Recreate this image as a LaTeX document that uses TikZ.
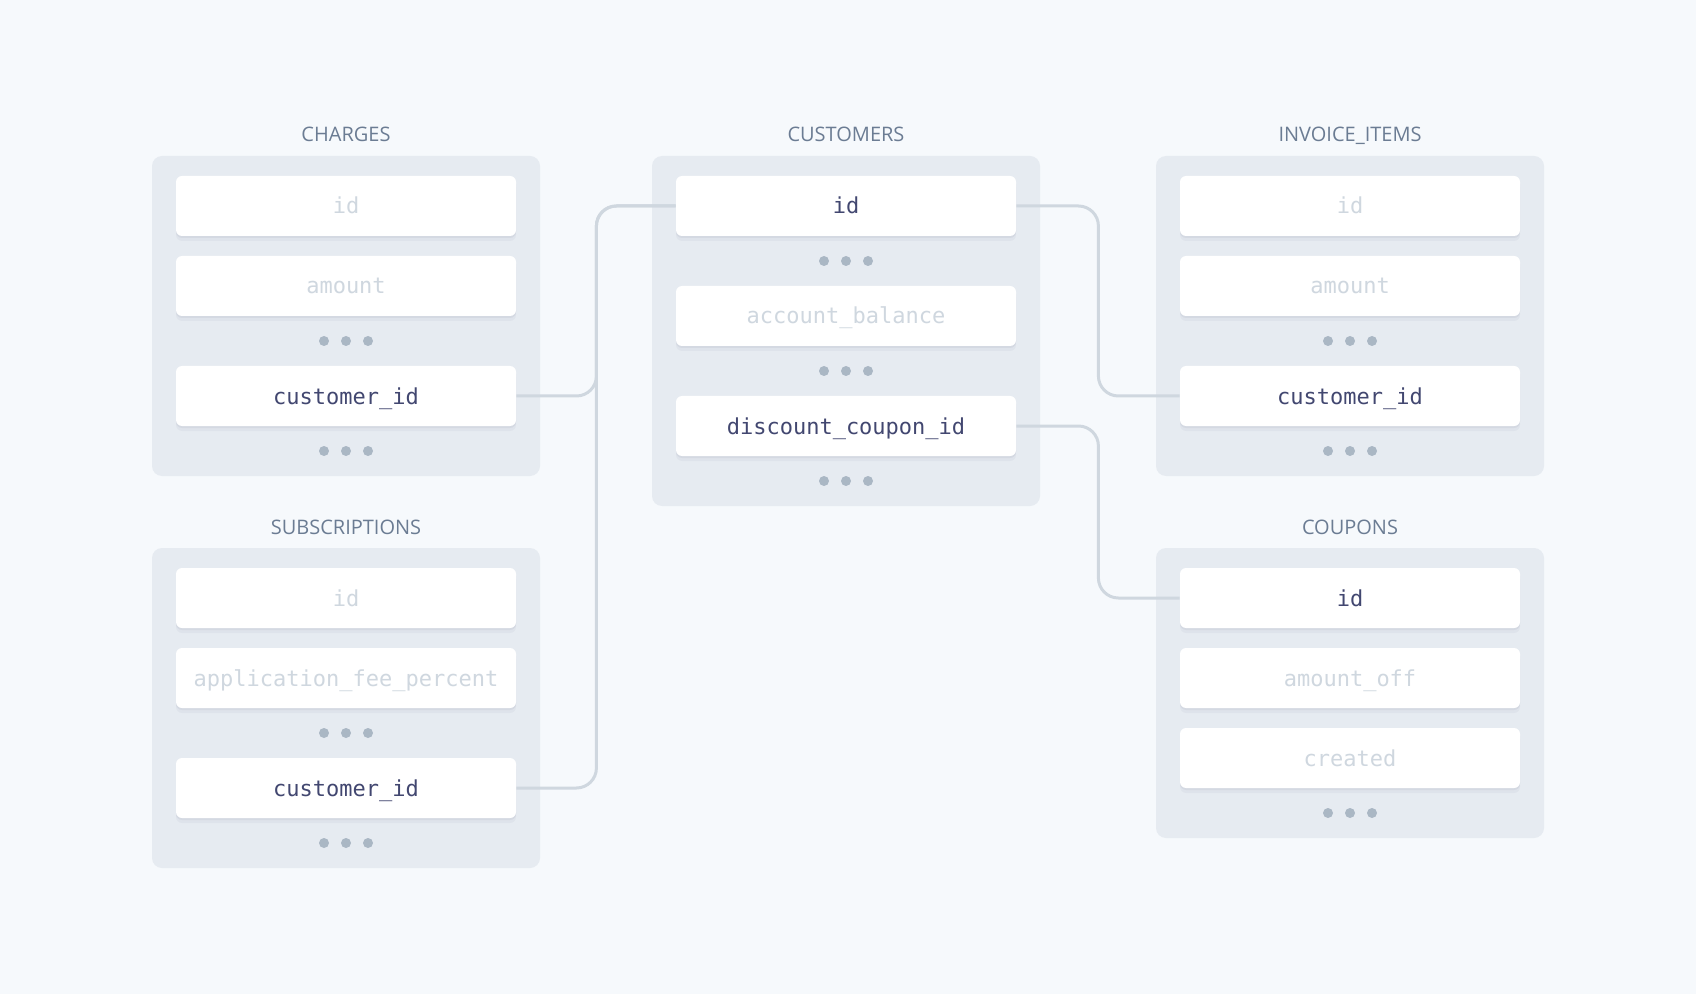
\documentclass[tikz,border=0pt]{standalone}
\usepackage{fontspec}
\usepackage{tikz}
\usetikzlibrary{shadows}
\setmainfont{Open Sans}
\newfontfamily\codefont{DejaVu Sans Mono}

\definecolor{pagebg}{HTML}{F6F9FC}
\definecolor{panelbg}{HTML}{E6EBF1}
\definecolor{titlegray}{HTML}{6B7C93}
\definecolor{keyblue}{HTML}{424770}
\definecolor{fadegray}{HTML}{CFD7DF}
\definecolor{dotgray}{HTML}{AAB7C4}
\definecolor{linkgray}{HTML}{CFD7DF}
\definecolor{shadowblue}{HTML}{32325D}

\tikzset{
  table/.style={fill=panelbg, rounded corners=5pt, minimum width=194pt, inner sep=0pt},
  tabletitle/.style={text=titlegray, font=\fontsize{10}{12}\selectfont,
    text height=7pt, text depth=0pt},
  field/.style={fill=white, rounded corners=3pt, minimum width=170pt, minimum height=30pt,
    inner sep=0pt, font=\codefont\fontsize{11}{13}\selectfont, text=fadegray,
    text height=8pt, text depth=0pt,
    drop shadow={shadow xshift=0pt, shadow yshift=-1pt, fill=shadowblue, opacity=0.06},
    drop shadow={shadow xshift=0pt, shadow yshift=-2.5pt, fill=shadowblue, opacity=0.04}},
  keyfield/.style={field, text=keyblue},
  link/.style={draw=linkgray, line width=1.5pt, rounded corners=10pt},
}
\newcommand{\moredots}[2]{%
  \foreach \dx in {-11,0,11} \fill[dotgray] (#1,#2) ++(\dx pt,0) circle (2.5pt);}

\begin{document}
\begin{tikzpicture}[x=0.5pt, y=-0.5pt]
  \fill[pagebg] (0,0) rectangle (1696,994);
  \useasboundingbox (0,0) rectangle (1696,994);

  % tables
  \node[tabletitle] (charges-title) at (346,135) {CHARGES};
  \node[table, minimum height=160pt] (charges) at (346,316) {};
  \node[tabletitle] (customers-title) at (846,135) {CUSTOMERS};
  \node[table, minimum height=175pt] (customers) at (846,331) {};
  \node[tabletitle] (invoice-title) at (1350,135) {INVOICE\_ITEMS};
  \node[table, minimum height=160pt] (invoice) at (1350,316) {};
  \node[tabletitle] (subs-title) at (346,527) {SUBSCRIPTIONS};
  \node[table, minimum height=160pt] (subs) at (346,708) {};
  \node[tabletitle] (coupons-title) at (1350,527) {COUPONS};
  \node[table, minimum height=145pt] (coupons) at (1350,693) {};

  % charges
  \node[field] (charges-id) at (346,206) {id};
  \node[field] (charges-amount) at (346,286) {amount};
  \moredots{346}{341}
  \node[keyfield] (charges-cust) at (346,396) {customer\_id};
  \moredots{346}{451}

  % customers
  \node[keyfield] (customers-id) at (846,206) {id};
  \moredots{846}{261}
  \node[field] (customers-bal) at (846,316) {account\_balance};
  \moredots{846}{371}
  \node[keyfield] (customers-coupon) at (846,426) {discount\_coupon\_id};
  \moredots{846}{481}

  % invoice items
  \node[field] (invoice-id) at (1350,206) {id};
  \node[field] (invoice-amount) at (1350,286) {amount};
  \moredots{1350}{341}
  \node[keyfield] (invoice-cust) at (1350,396) {customer\_id};
  \moredots{1350}{451}

  % subscriptions
  \node[field] (subs-id) at (346,598) {id};
  \node[field] (subs-fee) at (346,678) {application\_fee\_percent};
  \moredots{346}{733}
  \node[keyfield] (subs-cust) at (346,788) {customer\_id};
  \moredots{346}{843}

  % coupons
  \node[keyfield] (coupons-id) at (1350,598) {id};
  \node[field] (coupons-off) at (1350,678) {amount\_off};
  \node[field] (coupons-created) at (1350,758) {created};
  \moredots{1350}{813}

  % links
  \draw[link] (charges-cust.east) -- ++(40pt,0) |- (customers-id.west);
  \draw[link] (subs-cust.east) -- ++(40pt,0) |- (customers-id.west);
  \draw[link] (customers-id.east) -- ++(41pt,0) |- (invoice-cust.west);
  \draw[link] (customers-coupon.east) -- ++(41pt,0) |- (coupons-id.west);
\end{tikzpicture}
\end{document}
